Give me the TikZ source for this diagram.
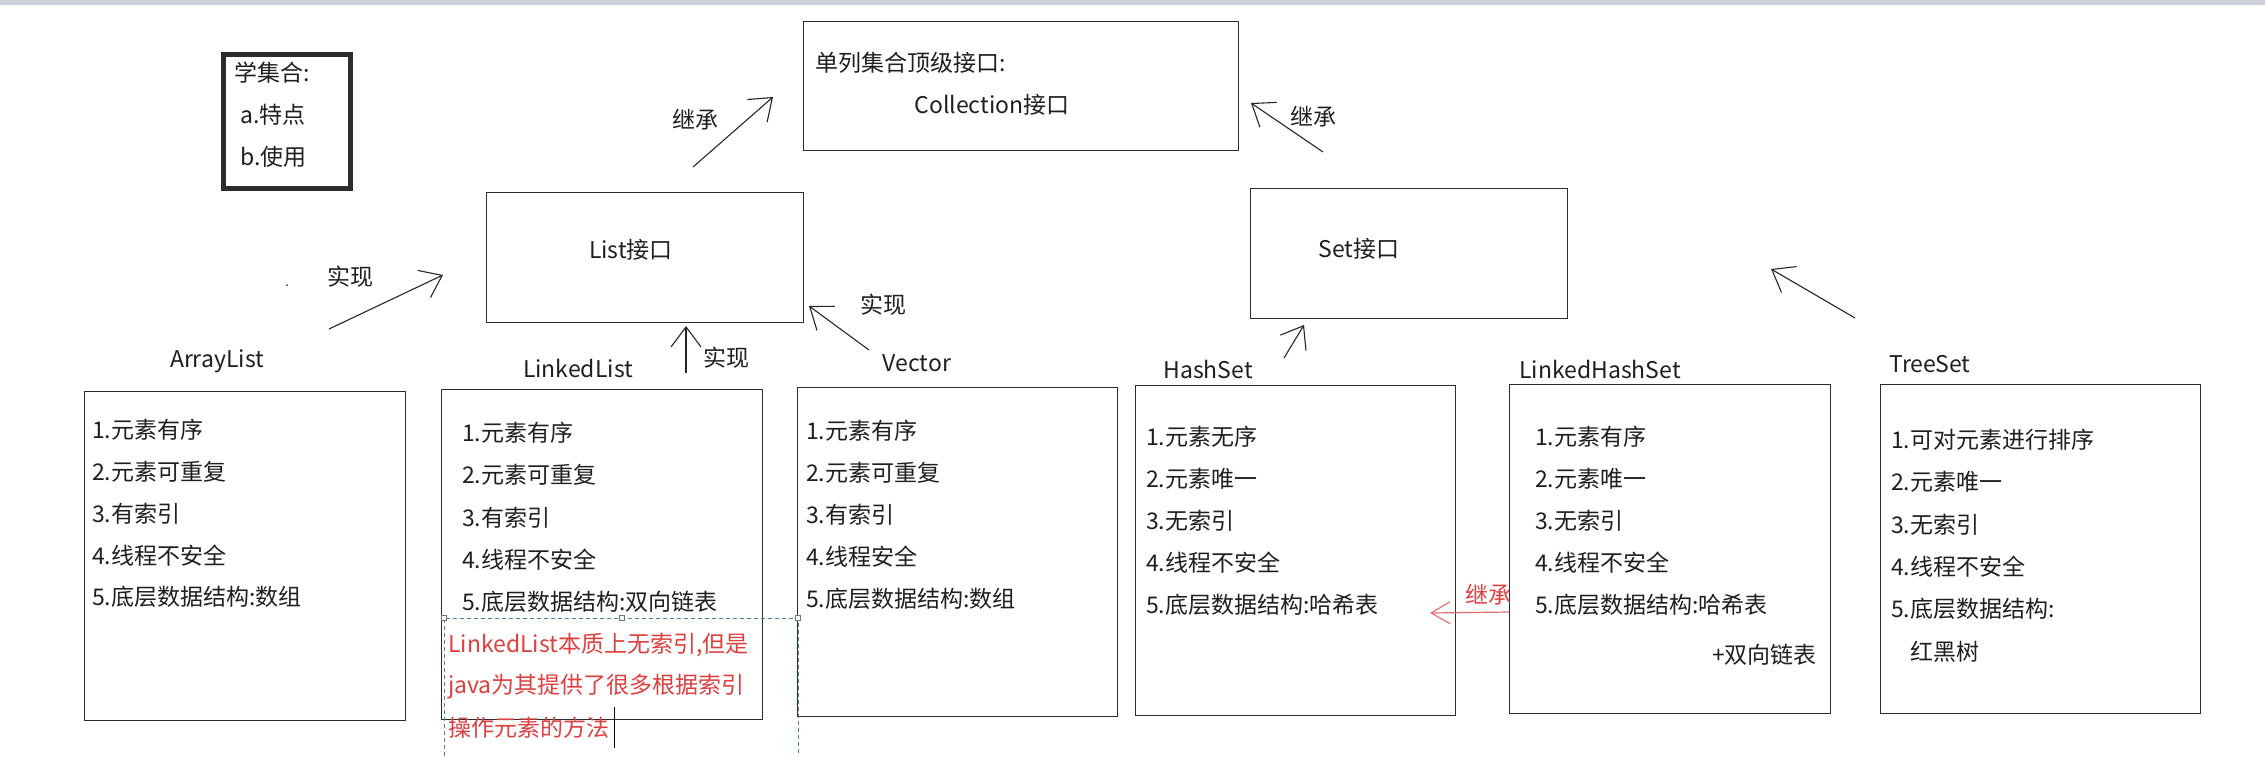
\documentclass[tikz,border=0pt]{standalone}
\usepackage{fontspec}
\setmainfont{Noto Sans CJK SC}
\usetikzlibrary{arrows.meta}
\definecolor{boxline}{RGB}{45,45,45}
\definecolor{topbar}{RGB}{203,208,216}
\definecolor{noteRed}{RGB}{222,64,64}
\definecolor{arrRed}{RGB}{225,110,110}
\definecolor{dashTeal}{RGB}{70,135,165}
\begin{document}
\begin{tikzpicture}[x=1pt,y=-1pt,
  box/.style={draw=boxline, line width=1.4pt, anchor=north west, inner sep=0pt},
  txt/.style={anchor=west, inner sep=0pt, font=\fontsize{23}{25}\selectfont, text=black!88},
  lbl/.style={inner sep=0pt, font=\fontsize{23}{25}\selectfont, text=black!88},
  arr/.style={-{Straight Barb[length=20pt,width=30pt,line width=1.1pt]}, line width=1.1pt, draw=black!85},
  redarr/.style={-{Straight Barb[length=19pt,width=22pt,line width=1.1pt]}, line width=1.2pt, draw=arrRed},
  handle/.style={draw=black!55, fill=white, line width=0.6pt, minimum size=5pt, inner sep=0pt}
]
\useasboundingbox (0,0) rectangle (2265,756);
\fill[white] (0,0) rectangle (2265,756);
\fill[topbar] (0,0) rectangle (2265,5);

% --- boxes ---
\node[box, line width=5pt, minimum width=127pt, minimum height=134pt] (study) at (220.5,51.5) {};
\node[box, minimum width=435pt, minimum height=129pt] (coll) at (803,21) {};
\node[box, minimum width=317pt, minimum height=130pt] (list) at (486,192) {};
\node[box, minimum width=317pt, minimum height=130pt] (set) at (1250,188) {};
\node[box, minimum width=321pt, minimum height=329pt] (al) at (84,391) {};
\node[box, minimum width=321pt, minimum height=330pt] (ll) at (441,389) {};
\node[box, minimum width=320pt, minimum height=329pt] (vec) at (797,387) {};
\node[box, minimum width=320pt, minimum height=330pt] (hs) at (1135,385) {};
\node[box, minimum width=321pt, minimum height=329pt] (lhs) at (1509,384) {};
\node[box, minimum width=320pt, minimum height=329pt] (ts) at (1880,384) {};

% --- texts in small boxes ---
\node[txt] (study-1) at (234,73) {学集合:};
\node[txt] (study-2) at (240,115) {a.特点};
\node[txt] (study-3) at (240,157) {b.使用};
\node[txt] (coll-1) at (815,63) {单列集合顶级接口:};
\node[lbl] (coll-2) at (992,105) {Collection接口};
\node[lbl] (list-t) at (631,250) {List接口};
\node[lbl] (set-t) at (1359,249) {Set接口};

% --- class names ---
\node[lbl] (al-n) at (217,361) {ArrayList};
\node[lbl] (ll-n) at (578,368) {LinkedList};
\node[lbl] (vec-n) at (917,363) {Vector};
\node[lbl] (hs-n) at (1208,369) {HashSet};
\node[lbl] (lhs-n) at (1600,369) {LinkedHashSet};
\node[lbl] (ts-n) at (1930,364) {TreeSet};

% --- feature lists ---
\foreach \t [count=\i] in {1.元素有序,2.元素可重复,3.有索引,4.线程不安全,5.底层数据结构:数组}
  \node[txt] (al-\i) at (92,{430+41.8*(\i-1)}) {\t};
\foreach \t [count=\i] in {1.元素有序,2.元素可重复,3.有索引,4.线程不安全,5.底层数据结构:双向链表}
  \node[txt] (ll-\i) at (462,{433+42.2*(\i-1)}) {\t};
\foreach \t [count=\i] in {1.元素有序,2.元素可重复,3.有索引,4.线程安全,5.底层数据结构:数组}
  \node[txt] (vec-\i) at (806,{431+42*(\i-1)}) {\t};
\foreach \t [count=\i] in {1.元素无序,2.元素唯一,3.无索引,4.线程不安全,5.底层数据结构:哈希表}
  \node[txt] (hs-\i) at (1146,{437+42*(\i-1)}) {\t};
\foreach \t [count=\i] in {1.元素有序,2.元素唯一,3.无索引,4.线程不安全,5.底层数据结构:哈希表}
  \node[txt] (lhs-\i) at (1535,{437+42*(\i-1)}) {\t};
\node[txt, anchor=east] (lhs-6) at (1817,655) {+双向链表};
\foreach \t [count=\i] in {1.可对元素进行排序,2.元素唯一,3.无索引,4.线程不安全,5.底层数据结构:}
  \node[txt] (ts-\i) at (1891,{440+42.2*(\i-1)}) {\t};
\node[txt] (ts-6) at (1910,652) {红黑树};

% --- note (dashed text frame) ---
\coordinate (n1) at (444,756);
\coordinate (n2) at (444,618);
\coordinate (n3) at (798,618);
\coordinate (n4) at (798,756);
\draw[dashTeal, line width=1pt, dash pattern=on 4pt off 3pt] (n1) -- (n2) -- (n3) -- (n4);
\node[handle] (h1) at (n2) {};
\node[handle] (h2) at (622,618) {};
\node[handle] (h3) at (n3) {};
\node[txt, text=noteRed] (note-1) at (448,645) {LinkedList本质上无索引,但是};
\node[txt, text=noteRed] (note-2) at (448,687) {java为其提供了很多根据索引};
\node[txt, text=noteRed] (note-3) at (448,728) {操作元素的方法};
\coordinate (cur1) at (614,707);
\coordinate (cur2) at (614,748);
\draw[black, line width=1pt] (cur1) -- (cur2);

% --- arrows ---
\coordinate (a1s) at (693,167); \coordinate (a1e) at (773,97);
\draw[arr] (a1s) -- (a1e);
\node[lbl] (a1l) at (695,120) {继承};

\coordinate (a2s) at (1323,152); \coordinate (a2e) at (1251,103);
\draw[arr] (a2s) -- (a2e);
\node[lbl] (a2l) at (1313,117) {继承};

\coordinate (a3s) at (329,329); \coordinate (a3e) at (443,275);
\draw[arr] (a3s) -- (a3e);
\node[lbl] (a3l) at (350,277) {实现};
\fill[black!80] (287,285) circle (1pt);

\coordinate (a4s) at (686,373); \coordinate (a4e) at (686,326);
\draw[arr] (a4s) -- (a4e);
\node[lbl] (a4l) at (726,358) {实现};

\coordinate (a5s) at (869,350); \coordinate (a5e) at (809,306);
\draw[arr] (a5s) -- (a5e);
\node[lbl] (a5l) at (883,305) {实现};

\coordinate (a6s) at (1284,358); \coordinate (a6e) at (1304,325);
\draw[arr] (a6s) -- (a6e);

\coordinate (a7s) at (1855,318); \coordinate (a7e) at (1771,269);
\draw[arr] (a7s) -- (a7e);

\coordinate (a8s) at (1509,612); \coordinate (a8e) at (1430,613);
\draw[redarr] (a8s) -- (a8e);
\node[lbl, text=noteRed] (a8l) at (1488,595) {继承};
\end{tikzpicture}
\end{document}
